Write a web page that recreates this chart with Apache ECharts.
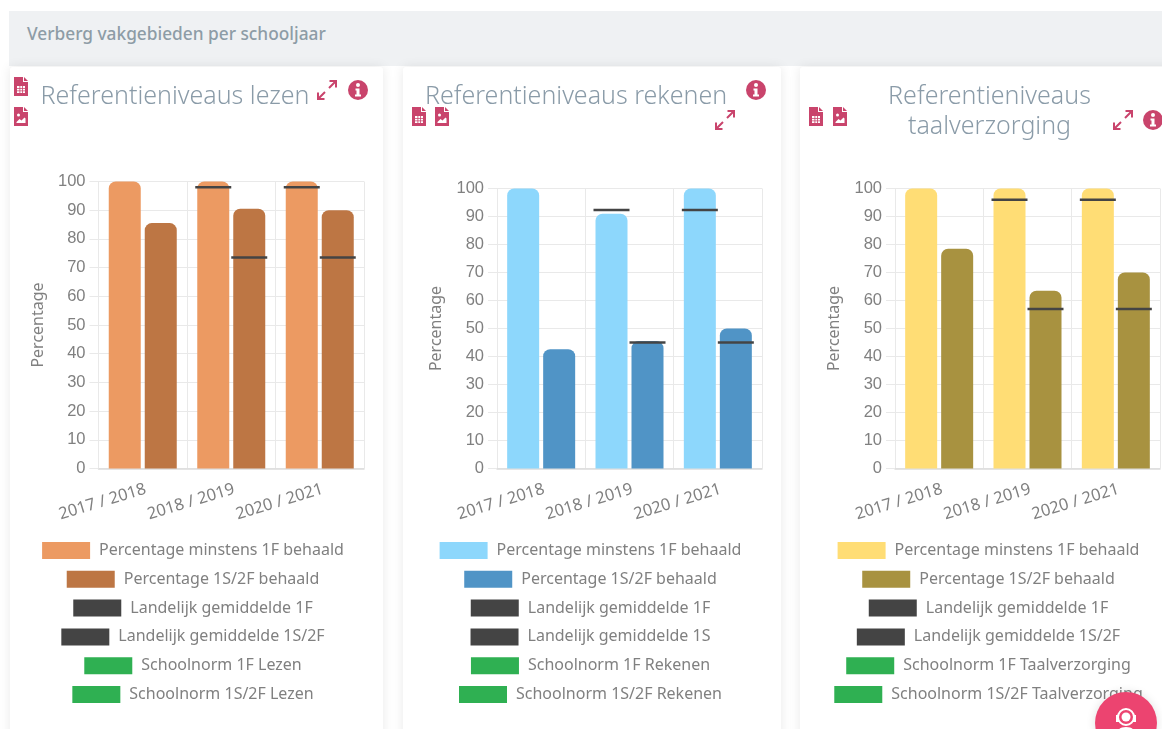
<!DOCTYPE html>
<html><head><meta charset="utf-8">
<script src="https://cdn.jsdelivr.net/npm/echarts@6/dist/echarts.min.js"></script>
<style>
html,body{margin:0;padding:0;width:1162px;height:729px;overflow:hidden;background:#fff;font-family:"Noto Sans",sans-serif}
#head{position:absolute;left:9px;top:11px;width:1153px;height:55px;background:#eff1f3;color:#8d9ca6;font-weight:500;font-size:17.3px;line-height:45px;text-indent:18px}
.card{position:absolute;top:67px;height:680px;background:#fff;box-shadow:0 0 12px rgba(0,0,0,.09);border-radius:3px}
.chart{position:absolute;top:0;height:729px}
svg.i{position:absolute;fill:#c9446c}
#fab{position:absolute;left:1095px;top:692px;width:62px;height:62px;border-radius:50%;background:#ec4470;box-shadow:0 0 10px rgba(0,0,0,.12)}
</style></head><body>
<div id="head">Verberg vakgebieden per schooljaar</div>
<div class="card" style="left:10px;width:373px"></div>
<div class="card" style="left:403px;width:378px"></div>
<div class="card" style="left:800px;width:380px"></div>
<div class="chart" id="c1" style="left:0;width:386px"></div>
<div class="chart" id="c2" style="left:400px;width:381px"></div>
<div class="chart" id="c3" style="left:798px;width:381px"></div>
<div id="icons"></div>
<div id="fab"><svg width="62" height="62" viewBox="0 0 62 62" style="position:absolute;left:0;top:0"><circle cx="31" cy="25" r="8" fill="none" stroke="#fff" stroke-width="2"/><circle cx="31" cy="25" r="4.5" fill="#fff"/><rect x="21" y="23" width="3" height="7" fill="#fff"/><rect x="38" y="23" width="3" height="7" fill="#fff"/><path d="M21 46c0-8 4-11 10-11s10 3 10 11z" fill="#fff"/></svg></div>
<script>
const categories = ['2017 / 2018', '2018 / 2019', '2020 / 2021'];
const lezenMin = [100, 100, 100];
const lezenHoog = [85.5, 90.5, 90];
const lezenGem1F = [null, 98, 98];
const lezenGem2F = [null, 73.5, 73.5];
const rekenenMin = [100, 91, 100];
const rekenenHoog = [42.6, 45.5, 50];
const rekenenGem1F = [null, 92.3, 92.3];
const rekenenGem2F = [null, 45, 45];
const taalMin = [100, 100, 100];
const taalHoog = [78.5, 63.5, 70];
const taalGem1F = [null, 96, 96];
const taalGem2F = [null, 57, 57];
const yTicks = {min: 0, max: 100, interval: 10};
const namesLezen = ['Percentage minstens 1F behaald','Percentage 1S/2F behaald','Landelijk gemiddelde 1F','Landelijk gemiddelde 1S/2F','Schoolnorm 1F Lezen','Schoolnorm 1S/2F Lezen'];
const namesRekenen = ['Percentage minstens 1F behaald','Percentage 1S/2F behaald','Landelijk gemiddelde 1F','Landelijk gemiddelde 1S','Schoolnorm 1F Rekenen','Schoolnorm 1S/2F Rekenen'];
const namesTaal = ['Percentage minstens 1F behaald','Percentage 1S/2F behaald','Landelijk gemiddelde 1F','Landelijk gemiddelde 1S/2F','Schoolnorm 1F Taalverzorging','Schoolnorm 1S/2F Taalverzorging'];

const FONT = '"Noto Sans", sans-serif';
const TXT = '#808080';
const GRID = '#e9e9e9';
const DARK = '#444444';
const GREEN = '#2fb052';

function marker(name, values, side) {
  const data = [];
  values.forEach((v, i) => { if (v !== null) data.push([i, v]); });
  return {
    name, type: 'custom', z: 5, data, encode: {x: 0, y: 1}, itemStyle: {color: DARK}, silent: true,
    renderItem(params, api) {
      const p = api.coord([api.value(0), api.value(1)]);
      return {type: 'rect', shape: {x: p[0] + side * 18 - 18, y: p[1] - 1.25, width: 36, height: 2.5}, style: {fill: DARK}};
    }
  };
}

function build(id, o) {
  const chart = echarts.init(document.getElementById(id), null, {renderer: 'canvas'});
  const colors = [o.c1, o.c2, DARK, DARK, GREEN, GREEN];
  const bar = (name, data, color) => ({
    name, type: 'bar', data, barWidth: 32, barGap: '12.5%', z: 2,
    itemStyle: {color, borderRadius: [7, 7, 0, 0]}, silent: true
  });
  chart.setOption({
    animation: false,
    title: o.title.map(t => ({text: t.text, left: t.left, top: t.top, textAlign: 'center',
      textStyle: {fontFamily: FONT, fontWeight: 300, fontSize: 25, color: '#8a9ba8'}})),
    legend: o.names.map((n, i) => ({
      data: [{name: n, itemStyle: {color: colors[i]}}], left: 'center', top: 542 + i * 28.8,
      padding: 0, itemWidth: 48, itemHeight: 17, icon: 'rect', selectedMode: false,
      textStyle: {fontFamily: FONT, fontSize: 16, color: TXT, padding: [0, 0, 0, 4]}
    })),
    grid: {left: o.left, width: o.width, top: o.top, bottom: 729 - 468.5, containLabel: false},
    xAxis: {
      type: 'category', data: categories,
      axisLine: {lineStyle: {color: '#dcdcdc', width: 1.5}},
      axisTick: {length: 9, lineStyle: {color: GRID}},
      splitLine: {show: true, lineStyle: {color: GRID}},
      axisLabel: {rotate: 17, margin: 21, interval: 0, fontFamily: FONT, fontSize: 16.5, color: TXT, padding: [0, -3, 0, 0]}
    },
    yAxis: {
      type: 'value', min: yTicks.min, max: yTicks.max, interval: yTicks.interval,
      name: 'Percentage', nameLocation: 'middle', nameGap: 52.5, nameRotate: 90,
      nameTextStyle: {fontFamily: FONT, fontSize: 16, color: TXT},
      axisLine: {show: true, lineStyle: {color: GRID}},
      axisTick: {show: true, length: 9, lineStyle: {color: GRID}},
      splitLine: {lineStyle: {color: GRID}},
      axisLabel: {margin: 13, fontFamily: 'Liberation Sans, sans-serif', fontSize: 16.5, color: TXT, padding: [2, 0, 0, 0]}
    },
    series: [
      bar(o.names[0], o.min, o.c1),
      bar(o.names[1], o.hoog, o.c2),
      marker(o.names[2], o.g1, -1),
      marker(o.names[3], o.g2, 1),
      {name: o.names[4], type: 'custom', data: [], itemStyle: {color: GREEN}, renderItem() { return null; }},
      {name: o.names[5], type: 'custom', data: [], itemStyle: {color: GREEN}, renderItem() { return null; }}
    ]
  });
}

build('c1', {names: namesLezen, min: lezenMin, hoog: lezenHoog, g1: lezenGem1F, g2: lezenGem2F,
  c1: '#ec9a62', c2: '#bd7644', left: 98.5, width: 265.5, top: 181.5,
  title: [{text: 'Referentieniveaus lezen', left: 170, top: 79}]});
build('c2', {names: namesRekenen, min: rekenenMin, hoog: rekenenHoog, g1: rekenenGem1F, g2: rekenenGem2F,
  c1: '#8dd7fc', c2: '#5094c6', left: 97, width: 265, top: 188.5,
  title: [{text: 'Referentieniveaus rekenen', left: 171, top: 79}]});
build('c3', {names: namesTaal, min: taalMin, hoog: taalHoog, g1: taalGem1F, g2: taalGem2F,
  c1: '#ffdd75', c2: '#a89240', left: 97, width: 265, top: 188.5,
  title: [{text: 'Referentieniveaus', left: 186.5, top: 79}, {text: 'taalverzorging', left: 186.5, top: 109}]});

const fileTable = '<path d="M1 0h9v5h5v14H1z"/><path d="M11 0l4 4h-4z"/><path fill="#fff" d="M4 9h8v7H4z"/><path d="M4 11h8v.8H4zM4 13.4h8v.8H4zM6.5 9h.8v7h-.8zM9 9h.8v7H9z"/>';
const fileImage = '<path d="M1 0h9v5h5v14H1z"/><path d="M11 0l4 4h-4z"/><path fill="#fff" d="M3.5 15l3-3 2 1.5 3-3 1 1V16h-9z"/><circle fill="#fff" cx="5.5" cy="8" r="1.5"/>';
const expand = '<path fill="none" stroke="#c9446c" stroke-width="2" d="M12.5 1H19V7.5M19 1L12 8M8 12L1 19M1 12.5V19H7.5"/>';
const info = '<circle cx="10" cy="10" r="10"/><circle fill="#fff" cx="10" cy="5" r="2"/><path fill="#fff" d="M7.5 8.5h4v6h1.5v2H7v-2h1.5v-4h-1z"/>';
const iconList = [
  [fileTable, 13, 77, 16, 19], [fileImage, 13, 107, 16, 19], [expand, 317, 80, 20, 20], [info, 348, 80, 20, 20],
  [fileTable, 411, 107, 16, 19], [fileImage, 434, 107, 16, 19], [expand, 715, 110, 20, 20], [info, 746, 80, 20, 20],
  [fileTable, 808, 107, 16, 19], [fileImage, 832, 107, 16, 19], [expand, 1113, 110, 20, 20], [info, 1143, 110, 20, 20]
];
document.getElementById('icons').innerHTML = iconList.map(([p, x, y, w, h]) =>
  `<svg class="i" style="left:${x}px;top:${y}px" width="${w}" height="${h}" viewBox="0 0 ${w} ${h}">${p}</svg>`).join('');
</script>
</body></html>
